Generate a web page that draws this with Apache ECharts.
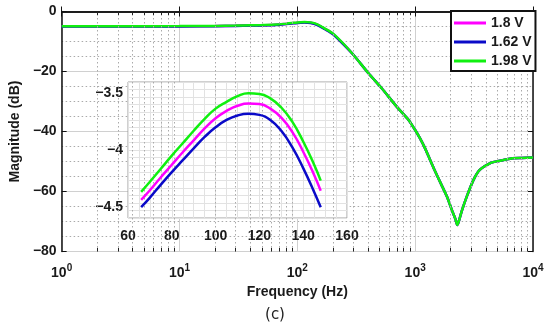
<!DOCTYPE html>
<html>
<head>
<meta charset="utf-8">
<script src="https://cdn.jsdelivr.net/npm/echarts@6/dist/echarts.min.js"></script>
<style>html,body{margin:0;padding:0;background:#fff}#c{width:550px;height:328px}</style>
</head>
<body>
<div id="c"></div>
<script>
// ---- Data ----
const seriesNames = ['1.8 V', '1.62 V', '1.98 V'];
const freqMain = [1, 3, 10, 20, 30, 40, 50, 66, 80, 90, 100, 115, 130, 148, 170, 200, 250, 300, 400, 520, 700, 870, 1000, 1100, 1200, 1320, 1440, 1650, 1860, 2050, 2200, 2280, 2360, 2500, 2740, 3120, 3530, 4300, 5000, 6700, 8000, 10000];
const magMain18 = [-4.95, -4.95, -4.92, -4.85, -4.75, -4.65, -4.57, -4.44, -4.13, -3.915, -3.72, -3.59, -3.715, -4.36, -5.7, -7.4, -11.1, -14.5, -20.5, -25.6, -31.8, -35.9, -39.5, -42.3, -45.2, -48.9, -52.3, -57.3, -61.7, -66.2, -69.3, -71.2, -69.6, -66.2, -61.7, -56.2, -52.8, -50.6, -49.9, -48.9, -48.8, -48.7];
const magMain162 = [-5.0, -5.0, -4.97, -4.9, -4.8, -4.7, -4.63, -4.505, -4.195, -3.985, -3.8, -3.68, -3.83, -4.505, -5.8, -7.5, -11.2, -14.5, -20.5, -25.6, -31.8, -35.9, -39.5, -42.3, -45.2, -48.9, -52.3, -57.3, -61.7, -66.2, -69.3, -71.2, -69.6, -66.2, -61.7, -56.2, -52.8, -50.6, -49.9, -48.9, -48.8, -48.7];
const magMain198 = [-4.9, -4.9, -4.87, -4.8, -4.7, -4.6, -4.52, -4.37, -4.05, -3.83, -3.635, -3.5, -3.625, -4.27, -5.6, -7.3, -11.0, -14.5, -20.5, -25.6, -31.8, -35.9, -39.5, -42.3, -45.2, -48.9, -52.3, -57.3, -61.7, -66.2, -69.3, -71.2, -69.6, -66.2, -61.7, -56.2, -52.8, -50.6, -49.9, -48.9, -48.8, -48.7];

const freqInset = [66, 70, 75, 80, 85, 90, 95, 100, 105, 110, 115, 120, 125, 130, 135, 140, 145, 148];
const magInset18 = [-4.44, -4.355, -4.24, -4.13, -4.02, -3.915, -3.81, -3.72, -3.655, -3.61, -3.59, -3.595, -3.635, -3.715, -3.84, -4.015, -4.22, -4.36];
const magInset162 = [-4.505, -4.42, -4.305, -4.195, -4.09, -3.985, -3.885, -3.8, -3.735, -3.695, -3.68, -3.69, -3.735, -3.83, -3.975, -4.16, -4.37, -4.505];
const magInset198 = [-4.37, -4.28, -4.165, -4.05, -3.94, -3.83, -3.725, -3.635, -3.575, -3.525, -3.5, -3.505, -3.545, -3.625, -3.75, -3.925, -4.13, -4.27];

const minorFreqs = [2,3,4,5,6,7,8,9,20,30,40,50,60,70,80,90,200,300,400,500,600,700,800,900,2000,3000,4000,5000,6000,7000,8000,9000];
const insetYLabels = [-4.5, -4, -3.5];
const colors = ['#ff00ff', '#0a0ac8', '#10f010'];

// ---- Chart ----
const chart = echarts.init(document.getElementById('c'), null, {renderer: 'canvas'});
const FONT = 'Liberation Sans';
const txt = {fontFamily: FONT, fontWeight: 'bold', fontSize: 14, color: '#1a1a1a'};
const minus = v => String(v).replace('-', '\u2212');

function pairs(v, y0, y1) { return [{coord: [v, y0]}, {coord: [v, y1]}]; }
const tickSegs = [];
minorFreqs.forEach(v => { tickSegs.push(pairs(v, -80, -78.8)); tickSegs.push(pairs(v, 0, -1.2)); });

const mainSeries = [magMain18, magMain162, magMain198].map((arr, i) => ({
  name: seriesNames[i], type: 'line', xAxisIndex: 0, yAxisIndex: 0,
  data: freqMain.map((f, k) => [f, arr[k]]),
  symbol: 'none', smooth: 0.25,
  lineStyle: {color: colors[i], width: 2.5}, itemStyle: {color: colors[i]}, z: 2
}));
const insetSeries = [magInset18, magInset162, magInset198].map((arr, i) => ({
  name: seriesNames[i], type: 'line', xAxisIndex: 2, yAxisIndex: 2,
  data: freqInset.map((f, k) => [f, arr[k]]),
  symbol: 'none', smooth: true,
  lineStyle: {color: colors[i], width: 2.5}, itemStyle: {color: colors[i]}, z: 6
}));

const option = {
  animation: false,
  backgroundColor: '#fff',
  grid: [
    {left: 54, top: 11.5, width: 479, height: 240, z: 0},
    {left: 128, top: 82, width: 219, height: 136, show: true, backgroundColor: '#fff', borderColor: '#a0a0a0', borderWidth: 1, z: 3}
  ],
  legend: {
    data: seriesNames, orient: 'vertical', left: 451, top: 11,
    padding: [5, 4, 3, 3], itemGap: 5, itemWidth: 32, itemHeight: 3, icon: 'rect',
    backgroundColor: '#fff', borderColor: '#111', borderWidth: 2, borderRadius: 0,
    textStyle: Object.assign({lineHeight: 14}, txt), selectedMode: false, z: 10
  },
  xAxis: [
    {type: 'log', logBase: 10, min: 1, max: 10000, gridIndex: 0, position: 'bottom',
     axisLine: {lineStyle: {color: '#111', width: 1.5}},
     axisTick: {inside: true, length: 5, lineStyle: {color: '#111'}},
     splitLine: {show: true, lineStyle: {color: '#d0d0d0', width: 1}},
     axisLabel: {margin: 12, formatter: v => '{b|10}{s|' + Math.round(Math.log10(v)) + '}',
       rich: {b: {fontFamily: FONT, fontWeight: 'bold', fontSize: 14, color: '#1a1a1a'},
              s: {fontFamily: FONT, fontWeight: 'bold', fontSize: 10, color: '#1a1a1a', padding: [0, 0, 9, 0]}}},
     name: 'Frequency (Hz)', nameLocation: 'middle', nameGap: 31, nameTextStyle: txt},
    {type: 'log', logBase: 10, min: 1, max: 10000, gridIndex: 0, position: 'top',
     axisLine: {lineStyle: {color: '#111', width: 1.5}},
     axisTick: {inside: true, length: 5, lineStyle: {color: '#111'}},
     axisLabel: {show: false}, splitLine: {show: false}},
    {type: 'value', min: 60, max: 160, interval: 5, gridIndex: 1, z: 4,
     axisLine: {show: false}, axisTick: {show: false},
     splitLine: {show: true, lineStyle: {color: '#e2e2e2', width: 1}},
     axisLabel: Object.assign({margin: 11, formatter: v => (v % 20 === 0 ? String(v) : '')}, txt)}
  ],
  yAxis: [
    {type: 'value', min: -80, max: 0, interval: 20, gridIndex: 0, position: 'left',
     axisLine: {lineStyle: {color: '#111', width: 1.5}},
     axisTick: {inside: true, length: 5, lineStyle: {color: '#111'}},
     splitLine: {show: true, lineStyle: {color: '#d0d0d0', width: 1}},
     minorTick: {show: false, splitNumber: 4},
     minorSplitLine: {show: true, lineStyle: {color: '#aaaaaa', width: 1, type: [1.5, 2.5]}},
     axisLabel: Object.assign({margin: 5, formatter: minus}, txt),
     name: 'Magnitude (dB)', nameLocation: 'middle', nameGap: 34, nameTextStyle: txt},
    {type: 'value', min: -80, max: 0, interval: 20, gridIndex: 0, position: 'right',
     axisLine: {show: true, lineStyle: {color: '#111', width: 1.5}},
     axisTick: {show: true, inside: true, length: 5, lineStyle: {color: '#111'}},
     axisLabel: {show: false}, splitLine: {show: false}},
    {type: 'value', min: -4.6, max: -3.4, interval: 1 / 15, gridIndex: 1, z: 4,
     axisLine: {show: false}, axisTick: {show: false},
     splitLine: {show: true, lineStyle: {color: '#e2e2e2', width: 1}},
     axisLabel: Object.assign({margin: 5, customValues: insetYLabels, formatter: minus}, txt)}
  ],
  series: [
    {type: 'line', xAxisIndex: 0, yAxisIndex: 0, data: [], silent: true, z: 1,
     markLine: {symbol: 'none', silent: true, animation: false, label: {show: false},
       lineStyle: {color: '#aaaaaa', width: 1, type: [1.5, 2.5]},
       data: minorFreqs.map(v => ({xAxis: v}))}},
    {type: 'line', xAxisIndex: 0, yAxisIndex: 0, data: [], silent: true, z: 1,
     markLine: {symbol: 'none', silent: true, animation: false, label: {show: false},
       lineStyle: {color: '#222', width: 1, type: 'solid'},
       data: tickSegs}}
  ].concat(mainSeries, insetSeries),
  graphic: [
    {type: 'text', left: 'center', top: 308, style: {text: '(c)', fontFamily: 'DejaVu Sans', fontSize: 15, fill: '#222'}}
  ]
};
chart.setOption(option);
</script>
</body>
</html>
